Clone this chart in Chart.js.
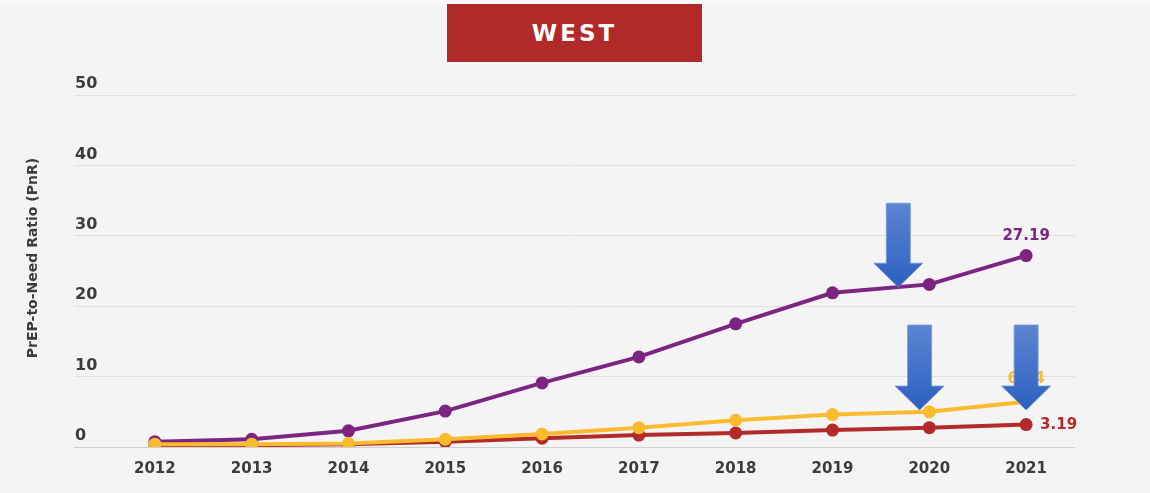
<!DOCTYPE html>
<html>
<head>
<meta charset="utf-8">
<script src="https://cdn.jsdelivr.net/npm/chart.js@4.4.1/dist/chart.umd.min.js"></script>
<style>
  html, body { margin: 0; padding: 0; background: #fafafa; }
  #wrap { position: absolute; left: 0; top: 4px; width: 1150px; height: 489px; background: #f4f4f4; }
  #titulo {
    position: absolute; left: 447px; top: 0; width: 255px; height: 58px;
    background: #b12a29; color: #fff; font: bold 23px "DejaVu Sans", sans-serif;
    letter-spacing: 3px; text-align: center; line-height: 58px;
  }
  canvas { position: absolute; left: 0; top: -4px; }
</style>
</head>
<body>
<div id="wrap">
  <canvas id="grafico" width="1150" height="493"></canvas>
  <div id="titulo">WEST</div>
</div>
<script>
// Datos
const anios = [2012, 2013, 2014, 2015, 2016, 2017, 2018, 2019, 2020, 2021];
const serieMorada = [0.75, 1.1, 2.3, 5.1, 9.1, 12.8, 17.5, 21.9, 23.1, 27.19];
const serieAmarilla = [0.4, 0.4, 0.5, 1.1, 1.85, 2.75, 3.8, 4.6, 5.0, 6.44];
const serieRoja = [0.2, 0.25, 0.4, 0.75, 1.25, 1.7, 2.0, 2.4, 2.75, 3.19];
const ticksY = [0, 10, 20, 30, 40, 50];
const tituloY = 'PrEP-to-Need Ratio (PnR)';

// Flechas azules (ancladas en coordenadas de datos)
const flechas = [
    { x: 2019.68, y: 22.7, largo: 84 },
    { x: 2019.9, y: 5.25, largo: 85 },
    { x: 2021, y: 5.25, largo: 85 }
];

const morado = '#7b2581';
const amarillo = '#fbbb2f';
const rojo = '#b22a29';
const gris = '#3c3c3c';

const puntos = (serie) => anios.map((a, i) => ({ x: a, y: serie[i] }));

// Título del eje Y, girado
const tituloEjeY = {
    id: 'tituloEjeY',
    afterDraw(chart) {
        const ctx = chart.ctx;
        ctx.save();
        ctx.translate(33, 258);
        ctx.rotate(-Math.PI / 2);
        ctx.font = 'bold 14px "DejaVu Sans", sans-serif';
        ctx.fillStyle = gris;
        ctx.textAlign = 'center';
        ctx.textBaseline = 'middle';
        ctx.fillText(tituloY, 0, 0);
        ctx.restore();
    }
};

// Etiquetas del último valor
const etiquetasFinales = {
    id: 'etiquetasFinales',
    afterDatasetsDraw(chart) {
        const ctx = chart.ctx;
        const xs = chart.scales.x, ys = chart.scales.y;
        const ultimo = anios[anios.length - 1];
        ctx.save();
        ctx.font = 'bold 15px "DejaVu Sans", sans-serif';
        ctx.textBaseline = 'middle';
        // morado: encima
        ctx.fillStyle = morado;
        ctx.textAlign = 'center';
        ctx.fillText(serieMorada[9].toFixed(2), xs.getPixelForValue(ultimo), ys.getPixelForValue(serieMorada[9]) - 19);
        // amarillo: encima
        ctx.fillStyle = amarillo;
        ctx.fillText(serieAmarilla[9].toFixed(2), xs.getPixelForValue(ultimo), ys.getPixelForValue(serieAmarilla[9]) - 23);
        // rojo: a la derecha
        ctx.fillStyle = rojo;
        ctx.textAlign = 'left';
        ctx.fillText(serieRoja[9].toFixed(2), xs.getPixelForValue(ultimo) + 14, ys.getPixelForValue(serieRoja[9]) + 1);
        ctx.restore();
    }
};

const dibujarFlechas = {
    id: 'dibujarFlechas',
    afterDraw(chart) {
        const ctx = chart.ctx;
        const xs = chart.scales.x, ys = chart.scales.y;
        flechas.forEach(f => {
            const px = xs.getPixelForValue(f.x);
            const punta = ys.getPixelForValue(f.y);
            const arriba = punta - f.largo;
            const cabeza = punta - 24;
            const grad = ctx.createLinearGradient(0, arriba, 0, punta);
            grad.addColorStop(0, '#5c86d2');
            grad.addColorStop(1, '#2c5fc0');
            ctx.save();
            ctx.beginPath();
            ctx.moveTo(px - 12, arriba);
            ctx.lineTo(px + 12, arriba);
            ctx.lineTo(px + 12, cabeza);
            ctx.lineTo(px + 24.5, cabeza);
            ctx.lineTo(px, punta);
            ctx.lineTo(px - 24.5, cabeza);
            ctx.lineTo(px - 12, cabeza);
            ctx.closePath();
            ctx.fillStyle = grad;
            ctx.fill();
            ctx.strokeStyle = 'rgba(120,150,215,0.8)';
            ctx.lineWidth = 1;
            ctx.stroke();
            ctx.restore();
        });
    }
};

const ctx = document.getElementById('grafico').getContext('2d');

new Chart(ctx, {
    type: 'line',
    data: {
        datasets: [
            { data: puntos(serieAmarilla), borderColor: amarillo, backgroundColor: amarillo, order: 0 },
            { data: puntos(serieRoja), borderColor: rojo, backgroundColor: rojo, order: 1 },
            { data: puntos(serieMorada), borderColor: morado, backgroundColor: morado, order: 2 }
        ]
    },
    options: {
        responsive: false,
        animation: false,
        layout: { padding: { left: 72, right: 75, top: 95, bottom: 10 } },
        elements: {
            line: { borderWidth: 4, tension: 0 },
            point: { radius: 6.5, borderWidth: 0, hoverRadius: 6.5 }
        },
        plugins: {
            legend: { display: false },
            tooltip: { enabled: false }
        },
        scales: {
            x: {
                type: 'linear',
                min: 2011.165,
                max: 2021.505,
                afterBuildTicks: (scale) => { scale.ticks = anios.map(v => ({ value: v })); },
                grid: { display: false },
                border: { display: false },
                ticks: {
                    padding: 5,
                    color: gris,
                    font: { family: '"DejaVu Sans", sans-serif', size: 15, weight: 'bold' },
                    callback: (v) => String(v)
                }
            },
            y: {
                min: 0,
                max: 50,
                afterBuildTicks: (scale) => { scale.ticks = ticksY.map(v => ({ value: v })); },
                grid: {
                    drawTicks: false,
                    color: (c) => c.tick && c.tick.value === 0 ? '#cfcfcf' : '#e0e0e0',
                    lineWidth: 1
                },
                border: { display: false },
                ticks: {
                    mirror: true,
                    padding: 1,
                    labelOffset: -11,
                    color: gris,
                    font: { family: '"DejaVu Sans", sans-serif', size: 16, weight: 'bold' }
                }
            }
        }
    },
    plugins: [tituloEjeY, etiquetasFinales, dibujarFlechas]
});
</script>
</body>
</html>
